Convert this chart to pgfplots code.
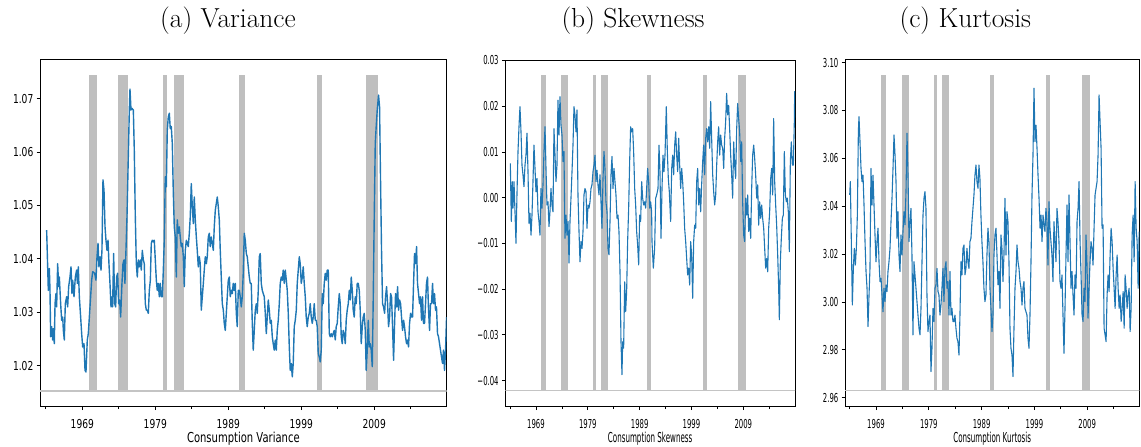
\documentclass[border=0pt]{standalone}
\usepackage{fontspec}
\usepackage{pgfplots}
\pgfplotsset{compat=1.18}
\newfontfamily\fa[FakeStretch=0.74]{DejaVu Sans}
\newfontfamily\fb[FakeStretch=0.56]{DejaVu Sans}
\newfontfamily\la[FakeStretch=0.73]{DejaVu Sans}
\newfontfamily\lb[FakeStretch=0.52]{DejaVu Sans}
\definecolor{mplblue}{RGB}{31,119,180}
\definecolor{recgray}{RGB}{191,191,191}
\definecolor{hgray}{RGB}{196,196,196}
\newcommand{\recessions}[2]{%
 \addplot[fill=recgray, draw=none] coordinates {(1969.95,#1) (1969.95,#2) (1970.95,#2) (1970.95,#1)} -- cycle;
 \addplot[fill=recgray, draw=none] coordinates {(1973.87,#1) (1973.87,#2) (1975.25,#2) (1975.25,#1)} -- cycle;
 \addplot[fill=recgray, draw=none] coordinates {(1980.0,#1) (1980.0,#2) (1980.58,#2) (1980.58,#1)} -- cycle;
 \addplot[fill=recgray, draw=none] coordinates {(1981.5,#1) (1981.5,#2) (1982.9,#2) (1982.9,#1)} -- cycle;
 \addplot[fill=recgray, draw=none] coordinates {(1990.5,#1) (1990.5,#2) (1991.25,#2) (1991.25,#1)} -- cycle;
 \addplot[fill=recgray, draw=none] coordinates {(2001.2,#1) (2001.2,#2) (2001.9,#2) (2001.9,#1)} -- cycle;
 \addplot[fill=recgray, draw=none] coordinates {(2007.92,#1) (2007.92,#2) (2009.5,#2) (2009.5,#1)} -- cycle;
 \addplot[hgray, line width=1.6pt] coordinates {(1960,#1) (2025,#1)};
}
\pgfplotsset{
 panel/.style={
   scale only axis, anchor=south west,
   axis line style={black, line width=0.9pt},
   tick align=outside, xtick pos=left, ytick pos=left,
   major tick length=3.5pt, minor tick length=2.5pt,
   every tick/.style={black, line width=0.8pt},
   scaled y ticks=false, scaled x ticks=false,
   xtick={1969,1979,1989,1999,2009},
   xticklabels={1969,1979,1989,1999,2009},
   minor xtick={1964,1974,1984,1994,2004,2014},
   xticklabel style={anchor=north, inner sep=0pt, yshift=-8.5pt},
   yticklabel style={anchor=east, inner sep=0pt, xshift=-3pt},
   xlabel style={at={(axis description cs:0.5,0)}, anchor=north, inner sep=0pt, yshift=-25pt},
   clip=true,
 },
 ser/.style={mplblue, line join=round, no marks},
}
\begin{document}
\begin{tikzpicture}
\path[use as bounding box] (0pt,0pt) rectangle (1141pt,447pt);
\node[anchor=base, font=\fontsize{27.5}{33}\selectfont] at (228pt,419.5pt) {(a) Variance};
\node[anchor=base, font=\fontsize{27.5}{33}\selectfont] at (633pt,419.5pt) {(b) Skewness};
\node[anchor=base, font=\fontsize{27.5}{33}\selectfont] at (965.3pt,419.5pt) {(c) Kurtosis};

% ---------------- (a) Variance
\begin{axis}[panel, at={(40pt,40.3pt)}, width=406.7pt, height=347.4pt,
  xmin=1963.2, xmax=2018.93, ymin=1.0123, ymax=1.0774,
  ytick={1.02,1.03,1.04,1.05,1.06,1.07},
  yticklabels={1.02,1.03,1.04,1.05,1.06,1.07},
  tick label style={font=\fontsize{12.3}{14}\fa},
  xlabel={Consumption Variance}, xlabel style={font=\fontsize{13.7}{16}\la}]
\recessions{1.01525}{1.0745}
\addplot[ser, line width=1.4pt] table {
1964.11 1.0454
1964.34 1.0341
1964.48 1.0382
1964.57 1.0341
1964.66 1.0254
1964.80 1.0273
1964.94 1.0248
1965.03 1.0269
1965.16 1.0241
1965.26 1.0316
1965.39 1.0335
1965.48 1.0310
1965.62 1.0391
1965.76 1.0348
1965.85 1.0366
1966.03 1.0316
1966.17 1.0285
1966.31 1.0291
1966.40 1.0266
1966.53 1.0248
1966.67 1.0316
1966.85 1.0329
1966.99 1.0310
1967.13 1.0348
1967.31 1.0366
1967.45 1.0385
1967.58 1.0335
1967.68 1.0360
1967.86 1.0329
1968.04 1.0366
1968.22 1.0379
1968.32 1.0354
1968.45 1.0385
1968.59 1.0329
1968.77 1.0291
1968.91 1.0260
1969.05 1.0235
1969.23 1.0241
1969.37 1.0191
1969.50 1.0188
1969.68 1.0248
1969.82 1.0260
1970.05 1.0310
1970.28 1.0360
1970.42 1.0376
1970.69 1.0373
1970.87 1.0360
1971.01 1.0404
1971.15 1.0429
1971.28 1.0385
1971.42 1.0404
1971.56 1.0379
1971.69 1.0416
1971.83 1.0548
1971.97 1.0529
1972.11 1.0460
1972.24 1.0435
1972.38 1.0416
1972.52 1.0435
1972.65 1.0391
1972.79 1.0354
1972.93 1.0310
1973.06 1.0329
1973.15 1.0310
1973.29 1.0410
1973.43 1.0316
1973.57 1.0310
1973.70 1.0366
1973.84 1.0373
1973.98 1.0316
1974.11 1.0323
1974.25 1.0291
1974.43 1.0354
1974.57 1.0391
1974.71 1.0398
1974.84 1.0354
1974.98 1.0416
1975.12 1.0479
1975.30 1.0591
1975.44 1.0679
1975.53 1.0718
1975.67 1.0679
1975.80 1.0682
1975.99 1.0679
1976.12 1.0604
1976.26 1.0479
1976.40 1.0391
1976.53 1.0366
1976.67 1.0398
1976.81 1.0385
1976.95 1.0398
1977.08 1.0379
1977.22 1.0416
1977.36 1.0398
1977.49 1.0391
1977.63 1.0316
1977.77 1.0304
1977.90 1.0304
1978.04 1.0298
1978.18 1.0341
1978.32 1.0360
1978.45 1.0429
1978.59 1.0435
1978.73 1.0432
1978.86 1.0435
1979.00 1.0398
1979.14 1.0360
1979.27 1.0341
1979.41 1.0354
1979.55 1.0329
1979.68 1.0354
1979.82 1.0329
1979.96 1.0329
1980.10 1.0379
1980.23 1.0435
1980.37 1.0554
1980.51 1.0535
1980.64 1.0641
1980.78 1.0666
1980.92 1.0673
1981.05 1.0644
1981.19 1.0648
1981.33 1.0616
1981.47 1.0523
1981.60 1.0460
1981.74 1.0441
1981.88 1.0366
1982.01 1.0473
1982.15 1.0448
1982.29 1.0460
1982.42 1.0441
1982.56 1.0423
1982.70 1.0429
1982.84 1.0404
1982.97 1.0348
1983.11 1.0416
1983.25 1.0435
1983.38 1.0429
1983.52 1.0423
1983.66 1.0448
1983.79 1.0479
1983.93 1.0541
1984.07 1.0498
1984.21 1.0466
1984.34 1.0516
1984.48 1.0473
1984.62 1.0441
1984.75 1.0416
1984.89 1.0385
1985.03 1.0404
1985.16 1.0391
1985.30 1.0304
1985.44 1.0329
1985.58 1.0354
1985.71 1.0379
1985.85 1.0404
1985.99 1.0391
1986.12 1.0404
1986.26 1.0441
1986.40 1.0448
1986.53 1.0423
1986.67 1.0441
1986.81 1.0429
1986.95 1.0416
1987.08 1.0460
1987.22 1.0491
1987.36 1.0504
1987.49 1.0516
1987.63 1.0498
1987.77 1.0473
1987.90 1.0416
1988.04 1.0366
1988.18 1.0316
1988.32 1.0304
1988.45 1.0279
1988.59 1.0266
1988.73 1.0298
1988.86 1.0329
1989.00 1.0360
1989.14 1.0366
1989.27 1.0329
1989.41 1.0341
1989.55 1.0335
1989.68 1.0354
1989.82 1.0341
1989.96 1.0354
1990.10 1.0298
1990.23 1.0273
1990.37 1.0341
1990.51 1.0341
1990.64 1.0329
1990.78 1.0310
1990.92 1.0329
1991.05 1.0373
1991.19 1.0448
1991.33 1.0435
1991.47 1.0410
1991.60 1.0404
1991.74 1.0385
1991.88 1.0366
1992.01 1.0354
1992.15 1.0354
1992.29 1.0279
1992.42 1.0229
1992.56 1.0266
1992.70 1.0304
1992.84 1.0316
1992.97 1.0298
1993.11 1.0341
1993.25 1.0404
1993.38 1.0410
1993.52 1.0354
1993.66 1.0341
1993.79 1.0335
1993.93 1.0329
1994.07 1.0298
1994.21 1.0260
1994.34 1.0291
1994.48 1.0323
1994.62 1.0304
1994.75 1.0279
1994.89 1.0285
1995.03 1.0254
1995.16 1.0241
1995.30 1.0229
1995.44 1.0248
1995.58 1.0229
1995.71 1.0266
1995.85 1.0285
1995.99 1.0316
1996.12 1.0354
1996.26 1.0366
1996.40 1.0360
1996.53 1.0379
1996.67 1.0354
1996.81 1.0379
1996.95 1.0360
1997.08 1.0341
1997.22 1.0298
1997.36 1.0235
1997.49 1.0191
1997.63 1.0204
1997.77 1.0179
1997.90 1.0204
1998.04 1.0273
1998.18 1.0285
1998.32 1.0304
1998.45 1.0354
1998.59 1.0379
1998.73 1.0404
1998.86 1.0391
1999.00 1.0354
1999.14 1.0366
1999.27 1.0385
1999.41 1.0354
1999.55 1.0329
1999.68 1.0291
1999.82 1.0273
1999.96 1.0291
2000.10 1.0298
2000.23 1.0316
2000.37 1.0291
2000.51 1.0279
2000.64 1.0291
2000.78 1.0316
2000.92 1.0285
2001.05 1.0285
2001.19 1.0273
2001.33 1.0223
2001.47 1.0216
2001.60 1.0207
2001.74 1.0229
2001.88 1.0335
2002.01 1.0316
2002.15 1.0354
2002.29 1.0373
2002.42 1.0360
2002.56 1.0379
2002.70 1.0379
2002.84 1.0260
2002.97 1.0254
2003.11 1.0260
2003.25 1.0254
2003.38 1.0260
2003.52 1.0266
2003.66 1.0248
2003.79 1.0273
2003.93 1.0279
2004.07 1.0310
2004.21 1.0335
2004.34 1.0316
2004.48 1.0254
2004.62 1.0241
2004.75 1.0266
2004.89 1.0260
2005.03 1.0241
2005.16 1.0285
2005.30 1.0304
2005.44 1.0316
2005.58 1.0341
2005.71 1.0323
2005.85 1.0366
2005.99 1.0341
2006.12 1.0304
2006.26 1.0291
2006.40 1.0329
2006.53 1.0316
2006.67 1.0354
2006.81 1.0354
2006.95 1.0341
2007.08 1.0304
2007.22 1.0241
2007.36 1.0273
2007.49 1.0291
2007.63 1.0298
2007.77 1.0266
2007.90 1.0191
2008.04 1.0229
2008.18 1.0285
2008.32 1.0235
2008.45 1.0241
2008.59 1.0229
2008.73 1.0198
2008.86 1.0323
2009.00 1.0479
2009.14 1.0616
2009.27 1.0648
2009.41 1.0679
2009.59 1.0707
2009.73 1.0685
2009.87 1.0541
2010.00 1.0416
2010.14 1.0316
2010.28 1.0310
2010.42 1.0298
2010.55 1.0329
2010.69 1.0348
2010.83 1.0316
2010.96 1.0273
2011.10 1.0291
2011.24 1.0335
2011.37 1.0329
2011.51 1.0273
2011.65 1.0210
2011.79 1.0279
2011.92 1.0335
2012.06 1.0310
2012.20 1.0348
2012.33 1.0304
2012.47 1.0323
2012.61 1.0316
2012.74 1.0291
2012.88 1.0266
2013.02 1.0285
2013.15 1.0273
2013.29 1.0254
2013.43 1.0241
2013.56 1.0248
2013.70 1.0235
2013.84 1.0279
2013.98 1.0298
2014.11 1.0291
2014.25 1.0291
2014.39 1.0354
2014.52 1.0410
2014.66 1.0391
2014.80 1.0423
2014.93 1.0354
2015.07 1.0335
2015.21 1.0316
2015.34 1.0329
2015.48 1.0285
2015.62 1.0329
2015.75 1.0279
2015.89 1.0279
2016.03 1.0316
2016.16 1.0354
2016.30 1.0366
2016.44 1.0304
2016.58 1.0266
2016.71 1.0316
2016.85 1.0316
2016.99 1.0354
2017.12 1.0316
2017.26 1.0335
2017.40 1.0304
2017.53 1.0310
2017.67 1.0260
2017.81 1.0254
2017.95 1.0241
2018.08 1.0229
2018.22 1.0216
2018.36 1.0204
2018.49 1.0229
2018.63 1.0191
2018.77 1.0229
2018.91 1.0291
};
\end{axis}

% ---------------- (b) Skewness
\begin{axis}[panel, at={(505.3pt,40.3pt)}, width=289.7pt, height=346.7pt,
  xmin=1963.08, xmax=2018.97, ymin=-0.0457, ymax=0.0301,
  ytick={-0.04,-0.03,-0.02,-0.01,0,0.01,0.02,0.03},
  yticklabels={−0.04,−0.03,−0.02,−0.01,0.00,0.01,0.02,0.03},
  tick label style={font=\fontsize{12.3}{14}\fb},
  xlabel={Consumption Skewness}, xlabel style={font=\fontsize{13.7}{16}\lb}]
\recessions{-0.0422}{0.0268}
\addplot[ser, line width=1.1pt] table {
1964.05 0.0075
1964.24 -0.0052
1964.43 0.0035
1964.56 -0.0023
1964.76 0.0035
1964.95 -0.0031
1965.14 -0.0100
1965.33 0.0006
1965.53 0.0101
1965.72 0.0155
1965.91 0.0199
1966.11 0.0144
1966.30 0.0071
1966.49 0.0050
1966.68 0.0024
1966.88 0.0071
1967.07 0.0093
1967.26 0.0141
1967.46 0.0057
1967.65 -0.0056
1967.84 -0.0034
1968.04 -0.0082
1968.23 -0.0038
1968.42 0.0035
1968.61 0.0115
1968.81 0.0064
1969.00 0.0013
1969.19 0.0042
1969.39 -0.0031
1969.58 -0.0052
1969.77 -0.0082
1969.96 0.0020
1970.16 -0.0023
1970.35 0.0028
1970.54 0.0101
1970.74 0.0155
1970.93 0.0064
1971.12 -0.0016
1971.32 -0.0009
1971.51 -0.0063
1971.70 -0.0031
1971.89 0.0020
1972.09 -0.0016
1972.28 -0.0031
1972.47 0.0151
1972.67 0.0093
1972.86 0.0035
1973.05 0.0071
1973.24 0.0213
1973.44 0.0137
1973.63 0.0221
1973.82 0.0159
1974.02 0.0137
1974.21 0.0079
1974.40 0.0101
1974.59 -0.0089
1974.79 -0.0038
1974.98 -0.0082
1975.17 -0.0052
1975.37 -0.0143
1975.56 -0.0052
1975.75 -0.0001
1975.95 0.0057
1976.14 0.0115
1976.33 0.0199
1976.52 0.0181
1976.72 0.0144
1976.91 0.0192
1977.10 0.0006
1977.30 -0.0074
1977.49 -0.0140
1977.68 -0.0096
1977.88 -0.0111
1978.07 -0.0074
1978.26 0.0006
1978.45 0.0020
1978.65 0.0013
1978.84 -0.0067
1979.03 -0.0016
1979.23 -0.0023
1979.42 -0.0009
1979.61 0.0020
1979.80 0.0028
1980.00 0.0057
1980.19 0.0071
1980.38 0.0093
1980.58 0.0035
1980.77 0.0060
1980.96 0.0028
1981.15 0.0006
1981.35 0.0050
1981.54 -0.0009
1981.73 -0.0067
1981.93 0.0042
1982.12 0.0101
1982.31 0.0064
1982.50 -0.0009
1982.70 -0.0031
1982.89 -0.0111
1983.08 -0.0125
1983.28 -0.0052
1983.47 0.0050
1983.66 0.0090
1983.86 0.0020
1984.05 0.0064
1984.24 0.0035
1984.43 0.0006
1984.63 -0.0045
1984.82 -0.0038
1985.01 -0.0074
1985.21 -0.0162
1985.40 -0.0315
1985.59 -0.0387
1985.72 -0.0315
1985.91 -0.0329
1986.11 -0.0184
1986.30 -0.0249
1986.49 -0.0205
1986.68 -0.0096
1986.88 -0.0023
1987.07 0.0079
1987.26 0.0155
1987.46 0.0144
1987.65 0.0151
1987.84 0.0101
1988.04 0.0020
1988.23 -0.0016
1988.42 -0.0074
1988.61 -0.0103
1988.81 -0.0147
1989.00 -0.0038
1989.19 -0.0052
1989.39 0.0035
1989.58 -0.0001
1989.77 -0.0016
1989.96 -0.0009
1990.16 -0.0023
1990.35 0.0020
1990.54 0.0064
1990.74 0.0035
1990.93 -0.0023
1991.12 -0.0009
1991.31 -0.0031
1991.38 -0.0096
1991.64 -0.0154
1991.89 -0.0111
1992.09 -0.0001
1992.28 0.0006
1992.54 0.0020
1992.73 0.0115
1992.92 0.0057
1993.12 -0.0089
1993.31 0.0020
1993.50 0.0093
1993.69 0.0057
1993.89 0.0093
1994.14 0.0199
1994.34 0.0101
1994.53 0.0042
1994.72 0.0013
1994.98 -0.0052
1995.18 0.0064
1995.37 0.0093
1995.56 0.0050
1995.76 0.0115
1995.95 0.0144
1996.14 0.0093
1996.33 0.0057
1996.53 0.0130
1996.72 0.0071
1996.91 0.0020
1997.11 0.0064
1997.30 0.0035
1997.49 -0.0009
1997.68 -0.0067
1997.88 -0.0096
1998.07 -0.0133
1998.26 -0.0169
1998.46 -0.0154
1998.65 -0.0191
1998.84 -0.0096
1999.03 -0.0125
1999.23 -0.0220
1999.42 -0.0096
1999.61 -0.0060
1999.81 -0.0067
2000.00 0.0035
2000.19 0.0064
2000.39 -0.0016
2000.58 0.0020
2000.77 -0.0031
2000.96 0.0028
2001.16 0.0079
2001.35 0.0115
2001.54 0.0050
2001.74 0.0130
2001.93 0.0151
2002.12 0.0122
2002.32 0.0155
2002.51 0.0108
2002.70 0.0210
2002.89 0.0130
2003.09 0.0050
2003.28 0.0013
2003.47 -0.0016
2003.67 0.0006
2003.86 0.0071
2004.05 0.0122
2004.24 0.0155
2004.44 0.0093
2004.63 0.0137
2004.82 0.0115
2005.02 0.0108
2005.21 0.0064
2005.40 0.0130
2005.59 0.0166
2005.78 0.0228
2005.98 0.0181
2006.17 0.0202
2006.36 0.0151
2006.56 0.0093
2006.75 0.0050
2006.94 -0.0001
2007.14 0.0122
2007.33 0.0071
2007.52 0.0042
2007.72 0.0151
2007.91 0.0206
2008.10 0.0173
2008.29 0.0144
2008.49 0.0079
2008.68 0.0122
2008.87 -0.0009
2009.07 -0.0082
2009.26 -0.0096
2009.45 -0.0001
2009.65 -0.0038
2009.84 0.0006
2010.03 -0.0074
2010.23 -0.0045
2010.42 -0.0089
2010.61 0.0020
2010.80 0.0093
2011.00 0.0115
2011.19 0.0086
2011.38 0.0050
2011.58 -0.0001
2011.77 0.0028
2011.96 -0.0060
2012.15 -0.0009
2012.35 -0.0045
2012.54 -0.0016
2012.73 -0.0045
2012.93 -0.0067
2013.12 -0.0111
2013.31 -0.0154
2013.50 -0.0133
2013.70 -0.0162
2013.89 -0.0067
2014.08 -0.0031
2014.28 0.0042
2014.47 0.0064
2014.66 0.0006
2014.85 0.0173
2015.05 0.0035
2015.24 -0.0016
2015.43 -0.0060
2015.63 -0.0125
2015.82 -0.0198
2015.95 -0.0267
2016.14 -0.0140
2016.33 -0.0089
2016.53 -0.0045
2016.72 -0.0038
2016.91 0.0101
2017.11 0.0006
2017.30 -0.0009
2017.49 -0.0001
2017.68 -0.0031
2017.88 -0.0118
2018.07 0.0079
2018.26 0.0122
2018.46 0.0071
2018.65 0.0071
2018.84 0.0166
2018.91 0.0232
2018.97 0.0175
};
\end{axis}

% ---------------- (c) Kurtosis
\begin{axis}[panel, at={(845pt,40.3pt)}, width=294.3pt, height=347.4pt,
  xmin=1963.13, xmax=2018.86, ymin=2.9562, ymax=3.1014,
  ytick={2.96,2.98,3.00,3.02,3.04,3.06,3.08,3.10},
  yticklabels={2.96,2.98,3.00,3.02,3.04,3.06,3.08,3.10},
  tick label style={font=\fontsize{12.3}{14}\fb},
  xlabel={Consumption Kurtosis}, xlabel style={font=\fontsize{13.7}{16}\lb}]
\recessions{2.9629}{3.095}
\addplot[ser, line width=1.1pt] table {
1964.02 3.0447
1964.14 3.0503
1964.33 3.0252
1964.52 2.9987
1964.71 3.0140
1964.90 3.0224
1965.09 3.0154
1965.28 3.0224
1965.47 3.0363
1965.66 3.0712
1965.78 3.0774
1965.97 3.0670
1966.16 3.0558
1966.35 3.0503
1966.54 3.0530
1966.73 3.0405
1966.92 3.0252
1967.11 3.0127
1967.30 3.0057
1967.49 2.9897
1967.68 3.0029
1967.86 3.0140
1968.05 3.0558
1968.24 3.0405
1968.43 3.0530
1968.62 3.0405
1968.81 3.0280
1969.00 3.0168
1969.19 3.0252
1969.38 3.0308
1969.57 3.0168
1969.76 3.0085
1969.95 3.0099
1970.14 3.0029
1970.32 2.9959
1970.51 3.0057
1970.70 3.0001
1970.89 3.0071
1971.08 3.0043
1971.27 3.0127
1971.46 3.0168
1971.65 3.0224
1971.84 3.0335
1972.03 3.0433
1972.22 3.0558
1972.41 3.0698
1972.60 3.0614
1972.79 3.0503
1972.97 3.0266
1973.16 3.0377
1973.35 3.0196
1973.54 3.0127
1973.73 3.0280
1973.92 3.0196
1974.11 3.0294
1974.30 3.0377
1974.49 3.0322
1974.68 3.0461
1974.87 3.0705
1975.06 3.0530
1975.25 3.0252
1975.44 3.0335
1975.62 3.0391
1975.81 3.0196
1976.00 2.9862
1976.19 3.0168
1976.38 3.0113
1976.57 3.0057
1976.76 3.0001
1976.95 2.9945
1977.14 2.9890
1977.33 2.9862
1977.52 2.9973
1977.71 3.0168
1977.90 3.0363
1978.09 3.0433
1978.27 3.0461
1978.46 3.0391
1978.65 3.0029
1978.84 2.9876
1979.03 2.9918
1979.22 2.9945
1979.41 2.9709
1979.60 2.9806
1979.79 2.9973
1979.98 2.9918
1980.17 3.0057
1980.36 3.0071
1980.55 3.0140
1980.74 3.0043
1980.92 3.0029
1981.11 2.9945
1981.30 2.9987
1981.49 3.0057
1981.68 3.0140
1981.87 3.0001
1982.06 3.0140
1982.25 3.0168
1982.44 3.0057
1982.63 3.0085
1982.82 2.9945
1983.01 3.0127
1983.20 2.9945
1983.38 2.9973
1983.57 2.9918
1983.76 2.9918
1983.95 2.9945
1984.14 2.9890
1984.33 2.9848
1984.52 2.9834
1984.71 2.9778
1984.90 2.9945
1985.09 3.0168
1985.28 3.0113
1985.47 3.0224
1985.66 3.0238
1985.85 3.0113
1986.03 3.0140
1986.22 3.0224
1986.41 3.0168
1986.60 3.0140
1986.79 3.0252
1986.98 3.0266
1987.17 3.0335
1987.36 3.0391
1987.55 3.0447
1987.74 3.0530
1987.93 3.0572
1988.12 3.0503
1988.31 3.0475
1988.50 3.0572
1988.68 3.0517
1988.87 3.0363
1989.06 3.0252
1989.25 3.0168
1989.44 3.0057
1989.63 3.0001
1989.82 3.0029
1990.01 3.0196
1990.20 3.0308
1990.39 3.0252
1990.58 3.0057
1990.77 2.9973
1990.96 2.9876
1991.15 2.9945
1991.34 3.0196
1991.53 3.0280
1991.72 3.0308
1991.91 3.0196
1992.10 3.0071
1992.29 3.0127
1992.48 2.9973
1992.66 3.0280
1992.85 3.0224
1993.04 3.0085
1993.23 3.0196
1993.42 3.0433
1993.61 3.0196
1993.80 3.0377
1993.99 3.0335
1994.18 3.0168
1994.37 2.9890
1994.56 2.9806
1994.75 2.9778
1994.94 2.9688
1995.13 2.9890
1995.32 3.0057
1995.51 3.0127
1995.70 3.0238
1995.89 3.0168
1996.08 3.0140
1996.27 3.0085
1996.46 3.0057
1996.65 2.9987
1996.83 3.0057
1997.02 3.0085
1997.21 2.9973
1997.40 2.9959
1997.59 2.9945
1997.78 2.9848
1997.97 2.9806
1998.16 2.9945
1998.35 3.0168
1998.54 3.0447
1998.73 3.0614
1998.92 3.0893
1999.11 3.0670
1999.30 3.0739
1999.49 3.0642
1999.68 3.0530
1999.87 3.0433
2000.06 3.0308
2000.25 3.0363
2000.44 3.0252
2000.63 3.0363
2000.82 3.0322
2000.99 3.0294
2001.18 3.0391
2001.37 3.0335
2001.56 3.0154
2001.75 3.0419
2001.94 3.0308
2002.13 3.0252
2002.32 3.0196
2002.51 3.0085
2002.70 3.0335
2002.89 3.0252
2003.08 3.0168
2003.27 3.0391
2003.46 3.0335
2003.65 3.0252
2003.84 3.0085
2004.03 3.0057
2004.22 3.0113
2004.41 2.9945
2004.60 2.9785
2004.79 2.9973
2004.98 3.0196
2005.17 3.0405
2005.36 3.0168
2005.55 3.0447
2005.74 3.0252
2005.93 3.0057
2006.12 3.0127
2006.31 3.0029
2006.50 2.9945
2006.69 3.0113
2006.88 3.0057
2007.07 3.0335
2007.26 3.0391
2007.45 3.0503
2007.64 3.0252
2007.83 3.0113
2008.02 2.9945
2008.21 2.9918
2008.39 3.0057
2008.58 3.0001
2008.77 3.0280
2008.96 3.0154
2009.15 2.9932
2009.34 3.0057
2009.53 3.0168
2009.72 3.0252
2009.91 3.0224
2010.10 3.0154
2010.29 3.0308
2010.48 3.0447
2010.67 3.0475
2010.86 3.0503
2011.05 3.0614
2011.24 3.0865
2011.43 3.0753
2011.62 3.0642
2011.81 3.0308
2012.00 3.0322
2012.19 2.9890
2012.38 2.9862
2012.57 2.9834
2012.76 3.0029
2012.95 3.0113
2013.14 3.0043
2013.33 3.0196
2013.52 3.0308
2013.71 3.0252
2013.90 3.0140
2014.09 3.0057
2014.28 2.9973
2014.47 3.0113
2014.66 3.0196
2014.85 3.0057
2015.04 2.9973
2015.23 3.0029
2015.42 2.9918
2015.61 2.9973
2015.80 3.0043
2015.99 2.9890
2016.17 3.0113
2016.36 3.0057
2016.55 2.9973
2016.74 3.0029
2016.93 3.0057
2017.12 2.9876
2017.31 2.9973
2017.50 3.0280
2017.69 3.0363
2017.88 3.0168
2018.07 3.0503
2018.26 3.0308
2018.45 3.0252
2018.64 3.0057
2018.83 3.0294
};
\end{axis}
\end{tikzpicture}
\end{document}
